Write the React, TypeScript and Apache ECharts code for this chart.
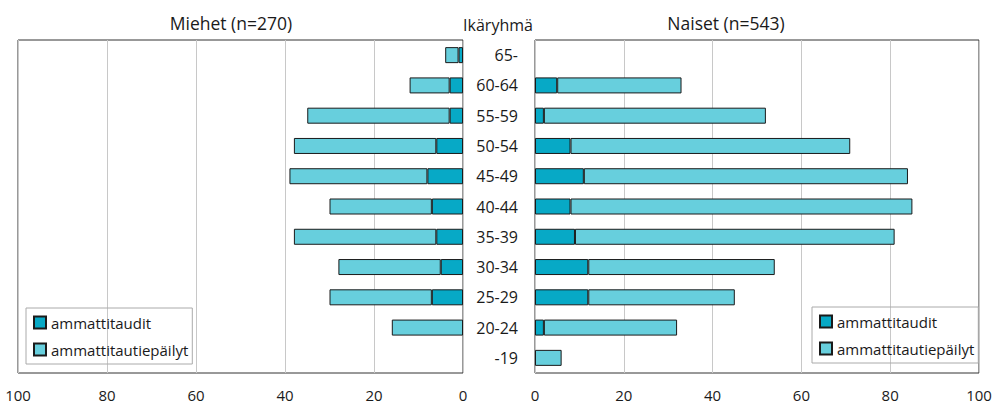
import React, { useEffect, useRef } from "react";
import * as echarts from "echarts";

const categories = ["65-", "60-64", "55-59", "50-54", "45-49", "40-44", "35-39", "30-34", "25-29", "20-24", "-19"];
const menAudits = [1, 3, 3, 6, 8, 7, 6, 5, 7, 0, 0];
const menSuspected = [3, 9, 32, 32, 31, 23, 32, 23, 23, 16, 0];
const womenAudits = [0, 5, 2, 8, 11, 8, 9, 12, 12, 2, 0];
const womenSuspected = [0, 28, 50, 63, 73, 77, 72, 42, 33, 30, 6];
const seriesNames = ["ammattitaudit", "ammattitautiepäilyt"];
const titles = ["Miehet (n=270)", "Naiset (n=543)", "Ikäryhmä"];

const FONT = "Open Sans";
const DARK = "#07a9c6";
const LIGHT = "#67cfdd";
const TXT = "#1a1a1a";

const noZero = (arr: number[]) => arr.map((v) => (v === 0 ? null : v));

export default function App() {
  const ref = useRef<HTMLDivElement>(null);
  useEffect(() => {
    if (!ref.current) return;
    const chart = echarts.init(ref.current, null, { renderer: "svg" });
    const barBase = {
      type: "bar",
      barWidth: 16,
      itemStyle: { borderColor: "#1a1a1a", borderWidth: 1 },
      emphasis: { disabled: true },
    };
    const xAxisCommon = {
      type: "value",
      min: 0,
      max: 100,
      interval: 20,
      axisLine: { show: false },
      axisTick: { show: false },
      splitLine: { show: true, lineStyle: { color: "#c8c8c8", width: 1 } },
      axisLabel: { fontFamily: FONT, fontSize: 15, color: TXT, margin: 14 },
    };
    const legendCommon = {
      orient: "vertical",
      icon: "rect",
      itemWidth: 12,
      itemHeight: 12,
      itemGap: 12,
      padding: [7, 4, 7, 7],
      borderColor: "#aaaaaa",
      borderWidth: 1,
      textStyle: { fontFamily: FONT, fontSize: 15, color: TXT },
      data: seriesNames,
    };
    const titleStyle = { fontFamily: FONT, fontSize: 17.5, fontWeight: "normal", color: TXT };
    chart.setOption({
      animation: false,
      backgroundColor: "#ffffff",
      title: [
        { text: titles[0], left: 226, top: 9, textAlign: "center", textStyle: titleStyle },
        { text: titles[1], left: 721, top: 9, textAlign: "center", textStyle: titleStyle },
        { text: titles[2], left: 493, top: 12, textAlign: "center", textStyle: { ...titleStyle, fontSize: 16 } },
      ],
      legend: [
        { ...legendCommon, left: 26, top: 308 },
        { ...legendCommon, left: 812, top: 307 },
      ],
      grid: [
        { left: 18, right: 532, top: 40, bottom: 32, show: true, borderColor: "#333333", borderWidth: 1, backgroundColor: "transparent" },
        { left: 535, right: 16, top: 40, bottom: 32, show: true, borderColor: "#333333", borderWidth: 1, backgroundColor: "transparent" },
      ],
      xAxis: [
        { ...xAxisCommon, gridIndex: 0, inverse: true },
        { ...xAxisCommon, gridIndex: 1 },
      ],
      yAxis: [
        {
          type: "category",
          gridIndex: 0,
          data: categories,
          inverse: true,
          axisLine: { show: false },
          axisTick: { show: false },
          axisLabel: { show: false },
        },
        {
          type: "category",
          gridIndex: 1,
          data: categories,
          inverse: true,
          axisLine: { show: false },
          axisTick: { show: false },
          axisLabel: { show: true, fontFamily: FONT, fontSize: 16, color: TXT, margin: 17, align: "right" },
        },
      ],
      series: [
        { ...barBase, name: seriesNames[0], stack: "m", xAxisIndex: 0, yAxisIndex: 0, data: noZero(menAudits), itemStyle: { ...barBase.itemStyle, color: DARK } },
        { ...barBase, name: seriesNames[1], stack: "m", xAxisIndex: 0, yAxisIndex: 0, data: noZero(menSuspected), itemStyle: { ...barBase.itemStyle, color: LIGHT } },
        { ...barBase, name: seriesNames[0], stack: "w", xAxisIndex: 1, yAxisIndex: 1, data: noZero(womenAudits), itemStyle: { ...barBase.itemStyle, color: DARK } },
        { ...barBase, name: seriesNames[1], stack: "w", xAxisIndex: 1, yAxisIndex: 1, data: noZero(womenSuspected), itemStyle: { ...barBase.itemStyle, color: LIGHT } },
      ],
    });
    return () => chart.dispose();
  }, []);
  return <div ref={ref} style={{ position: "fixed", left: 0, top: 0, width: 995, height: 405 }} />;
}
